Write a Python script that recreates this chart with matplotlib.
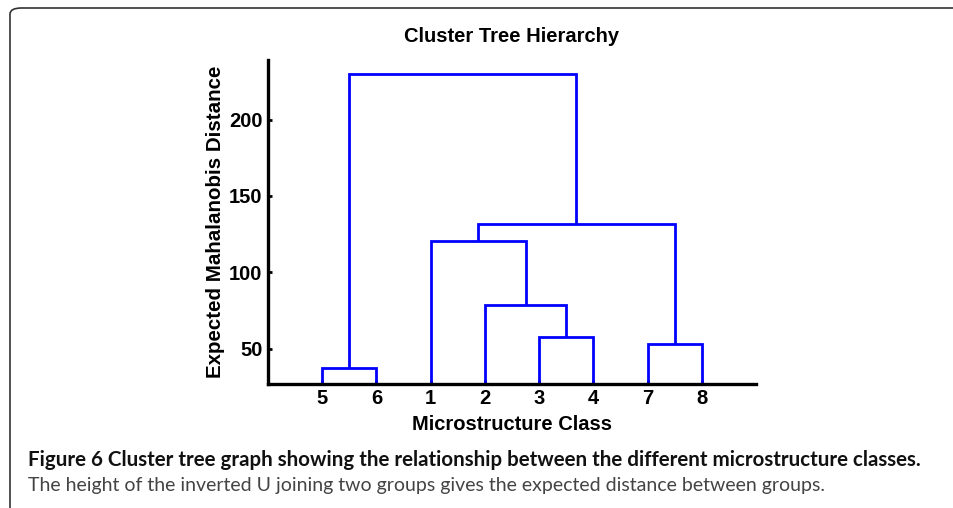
import matplotlib.pyplot as plt
from matplotlib.patches import FancyBboxPatch

# leaf order along the x axis and the merges (left, right, height)
leaf_order = [5, 6, 1, 2, 3, 4, 7, 8]
merges = [
    ('5', '6', 37.0),
    ('3', '4', 57.7),
    ('7', '8', 52.9),
    ('2', '3-4', 78.5),
    ('1', '2-3-4', 120.4),
    ('1-2-3-4', '7-8', 131.9),
    ('5-6', '1-2-3-4-7-8', 230.1),
]
y_ticks = [50, 100, 150, 200]

title = 'Cluster Tree Hierarchy'
x_label = 'Microstructure Class'
y_label = 'Expected Mahalanobis Distance'
caption_bold = 'Figure 6 Cluster tree graph showing the relationship between the different microstructure classes.'
caption_text = 'The height of the inverted U joining two groups gives the expected distance between groups.'

plt.rcParams['font.family'] = 'Liberation Sans'
plt.rcParams['font.weight'] = 'bold'
plt.rcParams['font.size'] = 14.5

fig = plt.figure(figsize=(9.54, 5.08), dpi=100)

# rounded frame around the figure (runs off the right and bottom edges)
frame = FancyBboxPatch((10 / 954, -0.1), 1.2, 1.0 - 8 / 508 + 0.1,
                       boxstyle='round,pad=0,rounding_size=0.012',
                       transform=fig.transFigure, fill=False,
                       edgecolor='#333333', linewidth=1.2)
fig.patches.append(frame)

ax = fig.add_axes([268 / 954, 1 - 383.5 / 508, (756 - 268) / 954, (383.5 - 60) / 508])

# leaf positions 1..n, heights 0
pos = {str(leaf): i + 1 for i, leaf in enumerate(leaf_order)}
height = {str(leaf): 0.0 for leaf in leaf_order}

for left, right, h in merges:
    xl, xr = pos[left], pos[right]
    ax.plot([xl, xl, xr, xr], [height[left], h, h, height[right]],
            color='#0000ff', linewidth=2.0, solid_joinstyle='miter',
            solid_capstyle='butt', clip_on=True)
    name = left + '-' + right
    pos[name] = (xl + xr) / 2
    height[name] = h

ax.set_xlim(0, len(leaf_order) + 1)
ax.set_ylim(27.1, 239)
ax.set_xticks(range(1, len(leaf_order) + 1))
ax.set_xticklabels([str(l) for l in leaf_order])
ax.set_yticks(y_ticks)

for s in ['top', 'right']:
    ax.spines[s].set_visible(False)
for s in ['left', 'bottom']:
    ax.spines[s].set_linewidth(2.4)
    ax.spines[s].set_capstyle('projecting')

ax.tick_params(direction='in', length=3, width=2, pad=4, labelsize=14.5)

fig.text(ax.get_position().x0 + ax.get_position().width / 2, 1 - 37 / 508, title,
         fontweight='bold', fontsize=14.5, ha='center', va='center')
ax.set_xlabel(x_label, fontweight='bold', fontsize=14.5, labelpad=5)
ax.set_ylabel(y_label, fontweight='bold', fontsize=14.8, labelpad=3)

cap_font = ['Lato', 'DejaVu Sans']
fig.text(28 / 954, 1 - 460 / 508, caption_bold, family=cap_font, fontweight='bold',
         fontsize=14.8, color='#111111', va='center', ha='left')
fig.text(28 / 954, 1 - 486 / 508, caption_text, family=cap_font, fontweight='normal',
         fontsize=14.0, color='#444444', va='center', ha='left')

fig.savefig('out.png', dpi=100)
